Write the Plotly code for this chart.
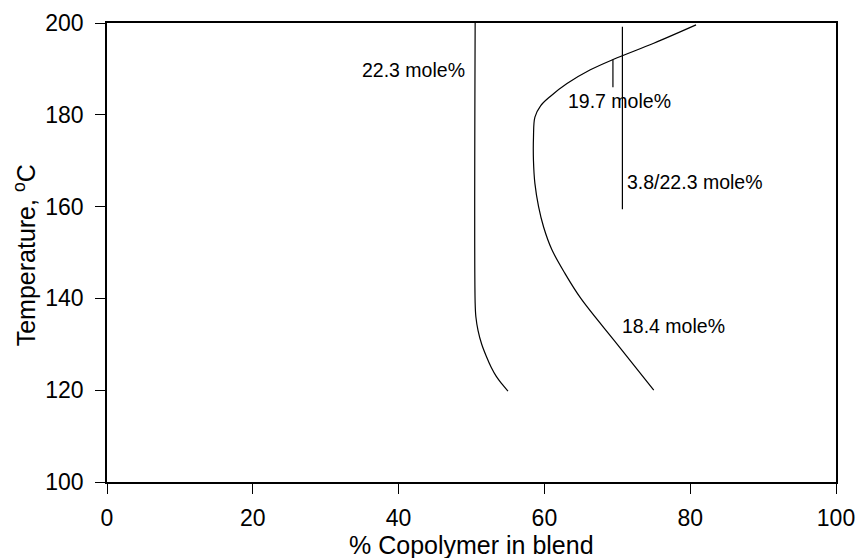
import plotly.graph_objects as go

# --- data ---
# 22.3 mole% boundary
c223_x = [50.5, 50.5, 50.6, 50.9, 51.4, 52.0, 52.7, 53.4, 54.2, 55.0]
c223_y = [200, 139, 136, 133, 130, 127.5, 125, 123, 121.3, 119.8]

# 18.4 / 19.7 mole% boundary
c184_x = [75.0, 70.0, 65.0, 62.8, 61.0, 59.9, 59.2, 58.7, 58.5, 58.5, 58.7, 59.5, 60.8, 63.1, 66.3, 69.5, 75.0, 80.8]
c184_y = [120, 130, 140, 145.5, 150.7, 155.5, 160, 165, 170, 175, 179.5, 182, 184, 186.8, 189.8, 192.1, 195.6, 199.6]

# 19.7 mole% short marker
c197_x = [69.4, 69.4]
c197_y = [192.0, 186.0]

# 3.8/22.3 mole% vertical
c38_x = [70.7, 70.7]
c38_y = [199.2, 159.4]

labels = ["22.3 mole%", "19.7 mole%", "3.8/22.3 mole%", "18.4 mole%"]
label_x = [49.4, 62.96, 71.05, 70.37]
label_y = [189.8, 183.0, 165.4, 133.9]
label_anchor = ["right", "left", "left", "left"]

x_ticks = [0, 20, 40, 60, 80, 100]
y_ticks = [100, 120, 140, 160, 180, 200]

FONT = "Liberation Sans, Arial, Helvetica, sans-serif"

fig = go.Figure()
line = dict(color="black", width=1.2)
for xs, ys in [(c223_x, c223_y), (c184_x, c184_y), (c197_x, c197_y), (c38_x, c38_y)]:
    fig.add_trace(go.Scatter(x=xs, y=ys, mode="lines", line=line,
                             line_shape="spline" if len(xs) > 2 else "linear",
                             showlegend=False, hoverinfo="skip"))

for t, x, y, a in zip(labels, label_x, label_y, label_anchor):
    fig.add_annotation(x=x, y=y, text=t, xanchor=a, yanchor="middle",
                       showarrow=False, font=dict(family=FONT, size=19.5, color="black"))

# axis titles as annotations for precise placement
fig.add_annotation(xref="paper", yref="paper", x=0.5, y=-0.137,
                   text="% Copolymer in blend", showarrow=False,
                   xanchor="center", yanchor="middle",
                   font=dict(family=FONT, size=25, color="black"))
fig.add_annotation(xref="paper", yref="paper", x=-0.113, y=0.493,
                   text="Temperature, <sup>o</sup>C", showarrow=False,
                   textangle=-90, xanchor="center", yanchor="middle",
                   font=dict(family=FONT, size=25, color="black"))

axis_common = dict(showline=True, linecolor="black", linewidth=1.5, mirror=True,
                   ticks="outside", ticklen=10, tickwidth=1.2, tickcolor="black",
                   showgrid=False, zeroline=False, automargin=False,
                   tickfont=dict(family=FONT, size=23, color="black"))

fig.update_xaxes(range=[0, 100], tickvals=x_ticks, ticklabelstandoff=5, **axis_common)
fig.update_yaxes(range=[100, 200], tickvals=y_ticks, ticklabelstandoff=7, **axis_common)

fig.update_layout(width=859, height=558,
                  margin=dict(l=107, r=23, t=23, b=76),
                  paper_bgcolor="white", plot_bgcolor="white",
                  font=dict(family=FONT, color="black"))

fig.write_html("out.html")
